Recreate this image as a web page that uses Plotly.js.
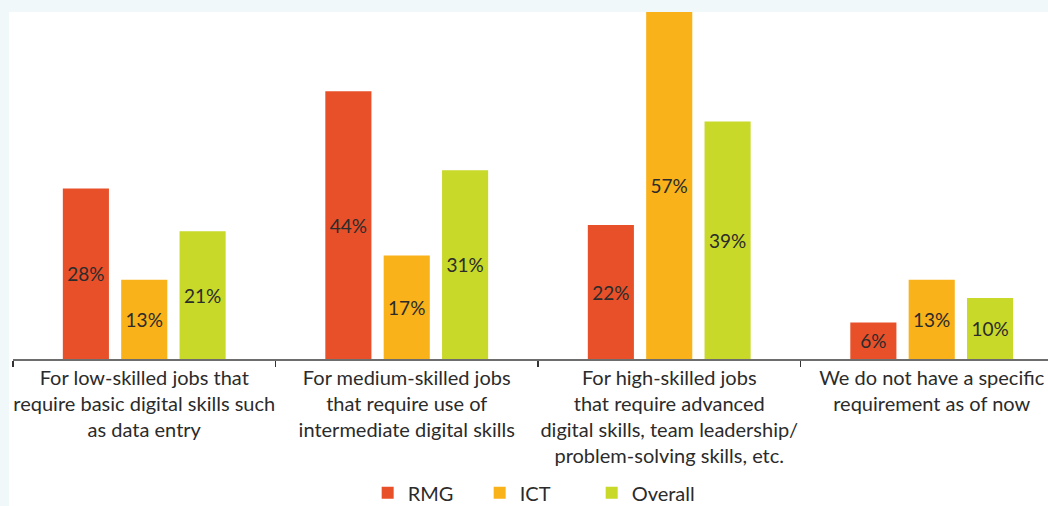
<!DOCTYPE html>
<html>
<head>
<meta charset="utf-8">
<script src="https://cdn.plot.ly/plotly-3.0.1.min.js"></script>
<style>html,body{margin:0;padding:0;background:#fff;}#chart{width:1048px;height:506px;}</style>
</head>
<body>
<div id="chart"></div>
<script>
var categories = [
  "For low-skilled jobs that<br>require basic digital skills such<br>as data entry",
  "For medium-skilled jobs<br>that require use of<br>intermediate digital skills",
  "For high-skilled jobs<br>that require advanced<br>digital skills, team leadership/<br>problem-solving skills, etc.",
  "We do not have a specific<br>requirement as of now"
];
var seriesNames = ["RMG", "ICT", "Overall"];
var rmg = [28, 44, 22, 6];
var ict = [13, 17, 57, 13];
var overall = [21, 31, 39, 10];
var colors = ["#E8502A", "#F9B21A", "#C8D92A"];

var values = [rmg, ict, overall];
var traces = values.map(function (v, i) {
  return {
    type: "bar",
    name: seriesNames[i],
    x: categories,
    y: v,
    marker: {color: colors[i]},
    text: v.map(function (d) { return d + "%"; }),
    textposition: "inside",
    insidetextanchor: "middle",
    textangle: 0,
    textfont: {family: "Lato, sans-serif", size: 19, color: "#2b2b2b"},
    constraintext: "none",
    hoverinfo: "skip",
    cliponaxis: true
  };
});

var layout = {
  width: 1048,
  height: 506,
  margin: {l: 13, r: 0, t: 12, b: 147},
  paper_bgcolor: "#ffffff",
  plot_bgcolor: "#ffffff",
  barmode: "group",
  bargap: 0.333,
  bargroupgap: 0.21,
  font: {family: "Lato, sans-serif", size: 20, color: "#2b2b2b"},
  xaxis: {
    type: "category",
    range: [-0.5, 3.443],
    automargin: false,
    tickangle: 0,
    showline: true,
    linecolor: "#6d6d6d",
    linewidth: 1.5,
    ticks: "outside",
    tickson: "boundaries",
    ticklen: 6,
    tickcolor: "#333333",
    tickwidth: 1.5,
    tickfont: {family: "Lato, sans-serif", size: 20, color: "#2b2b2b"},
    showgrid: false,
    zeroline: false,
    fixedrange: true
  },
  yaxis: {
    range: [0, 57],
    visible: false,
    showgrid: false,
    zeroline: false,
    fixedrange: true
  },
  legend: {
    orientation: "h",
    x: 0.505,
    xanchor: "center",
    yref: "container",
    y: 0.026,
    yanchor: "middle",
    font: {family: "Lato, sans-serif", size: 20, color: "#2b2b2b"},
    itemclick: false,
    bgcolor: "rgba(0,0,0,0)",
    traceorder: "normal",
    entrywidth: 67
  },
  shapes: [
    {type: "rect", xref: "paper", yref: "paper", x0: -0.02, x1: -0.00386, y0: -0.5, y1: 1.1,
     fillcolor: "#f0f8fa", line: {width: 0}, layer: "above"},
    {type: "rect", xref: "paper", yref: "paper", x0: -0.02, x1: 1.02, y0: 1.0, y1: 1.1,
     fillcolor: "#f0f8fa", line: {width: 0}, layer: "above"}
  ],
  showlegend: true
};

Plotly.newPlot("chart", traces, layout, {displayModeBar: false, staticPlot: true});
</script>
</body>
</html>
